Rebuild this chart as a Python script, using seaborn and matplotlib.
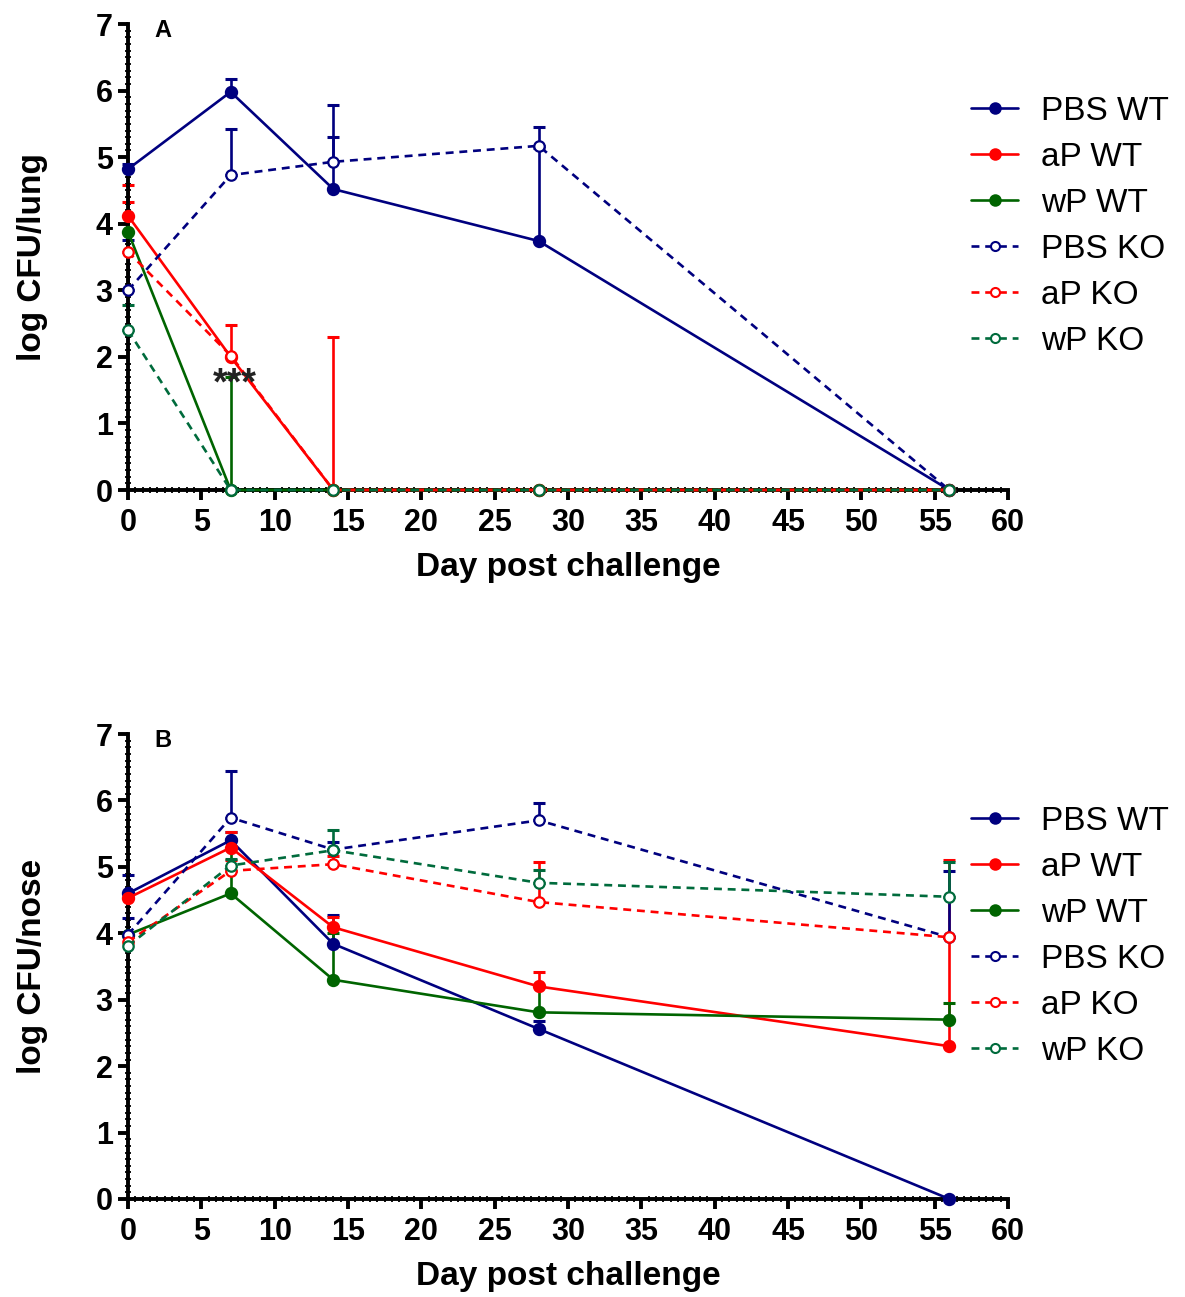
import numpy as np
import pandas as pd
import matplotlib
matplotlib.use("Agg")
import matplotlib.pyplot as plt
from matplotlib.ticker import MultipleLocator
from matplotlib.lines import Line2D
import seaborn as sns

nan = np.nan
days = [0, 7, 14, 28, 56]
series_names = ["PBS WT", "aP WT", "wP WT", "PBS KO", "aP KO", "wP KO"]

# Panel A: lung
pbs_wt_A = [4.82, 5.98, 4.52, 3.74, 0]
pbs_wt_A_err = [0.08, 0.20, 0.78, 1.40, nan]
ap_wt_A = [4.12, 2.00, 0, 0, 0]
ap_wt_A_err = [0.46, 0.48, 2.30, nan, nan]
wp_wt_A = [3.88, 0, 0, 0, 0]
wp_wt_A_err = [nan, 1.70, nan, nan, nan]
pbs_ko_A = [3.00, 4.73, 4.93, 5.17, 0]
pbs_ko_A_err = [0.75, 0.69, 0.85, 0.28, nan]
ap_ko_A = [3.58, 2.02, 0, 0, 0]
ap_ko_A_err = [0.74, nan, nan, nan, nan]
wp_ko_A = [2.40, 0, 0, 0, 0]
wp_ko_A_err = [0.38, nan, nan, nan, nan]

# Panel B: nose
pbs_wt_B = [4.60, 5.40, 3.84, 2.56, 0]
pbs_wt_B_err = [0.27, 0.12, 0.44, 0.12, nan]
ap_wt_B = [4.53, 5.29, 4.09, 3.20, 2.30]
ap_wt_B_err = [nan, 0.23, 0.16, 0.22, 2.80]
wp_wt_B = [3.98, 4.60, 3.30, 2.81, 2.70]
wp_wt_B_err = [nan, 0.82, 0.71, 0.40, 0.25]
pbs_ko_B = [3.98, 5.74, 5.26, 5.70, 3.94]
pbs_ko_B_err = [0.25, 0.70, 0.11, 0.26, 1.00]
ap_ko_B = [3.87, 4.94, 5.04, 4.47, 3.94]
ap_ko_B_err = [nan, 0.17, 0.12, 0.60, nan]
wp_ko_B = [3.81, 5.02, 5.25, 4.76, 4.55]
wp_ko_B_err = [nan, 0.10, 0.30, 0.20, 0.53]

panelA = [(pbs_wt_A, pbs_wt_A_err), (ap_wt_A, ap_wt_A_err), (wp_wt_A, wp_wt_A_err),
          (pbs_ko_A, pbs_ko_A_err), (ap_ko_A, ap_ko_A_err), (wp_ko_A, wp_ko_A_err)]
panelB = [(pbs_wt_B, pbs_wt_B_err), (ap_wt_B, ap_wt_B_err), (wp_wt_B, wp_wt_B_err),
          (pbs_ko_B, pbs_ko_B_err), (ap_ko_B, ap_ko_B_err), (wp_ko_B, wp_ko_B_err)]

colors = ["#00007F", "#FF0000", "#006400", "#00007F", "#FF0000", "#006B3C"]
dashed = [False, False, False, True, True, True]

sns.set_style("ticks")
plt.rcParams["font.family"] = ["Liberation Sans", "DejaVu Sans"]
plt.rcParams["text.color"] = "black"
plt.rcParams["axes.labelcolor"] = "black"
plt.rcParams["xtick.color"] = "black"
plt.rcParams["ytick.color"] = "black"

fig = plt.figure(figsize=(11.85, 12.97), dpi=100)
W, H = 1185, 1297
axA = fig.add_axes([128 / W, 1 - 490 / H, 880 / W, 466 / H])
axB = fig.add_axes([128 / W, 1 - 1199 / H, 880 / W, 465 / H])

DASH = (0, (3, 2.2))


def draw(ax, panel, ylabel, letter):
    handles = []
    for name, (vals, errs), c, d in zip(series_names, panel, colors, dashed):
        df = pd.DataFrame({"day": days, "val": vals})
        ls = DASH if d else "-"
        sns.lineplot(data=df, x="day", y="val", ax=ax, color=c, linewidth=1.9,
                     linestyle=ls, marker="o", markersize=8 if not d else 7.5,
                     markerfacecolor="white" if d else c, markeredgecolor=c,
                     markeredgewidth=1.6, clip_on=False, zorder=3, errorbar=None)
        e = np.array(errs, dtype=float)
        v = np.array(vals, dtype=float)
        m = ~np.isnan(e)
        if m.any():
            ax.errorbar(np.array(days)[m], v[m], yerr=[np.zeros(m.sum()), e[m]],
                        fmt="none", ecolor=c, elinewidth=1.9, capsize=4.5,
                        capthick=2.2, clip_on=False, zorder=2)
        handles.append(Line2D([0], [0], color=c, linewidth=1.9, linestyle=ls,
                              marker="o", markersize=7.5 if not d else 6.5,
                              markerfacecolor="white" if d else c,
                              markeredgecolor=c, markeredgewidth=1.5))
    ax.set_xlim(0, 60)
    ax.set_ylim(0, 7)
    ax.xaxis.set_major_locator(MultipleLocator(5))
    ax.yaxis.set_major_locator(MultipleLocator(1))
    ax.xaxis.set_minor_locator(MultipleLocator(0.5))
    ax.yaxis.set_minor_locator(MultipleLocator(0.1))
    sns.despine(ax=ax)
    for s in ["left", "bottom"]:
        ax.spines[s].set_linewidth(2.8)
        ax.spines[s].set_color("black")
    ax.tick_params(which="major", direction="out", length=7, width=2.8,
                   labelsize=22, pad=4, color="black", labelcolor="black")
    ax.tick_params(axis="x", which="major", pad=6)
    ax.tick_params(which="minor", direction="inout", length=5, width=1.3, color="black")
    for lab in ax.get_xticklabels() + ax.get_yticklabels():
        lab.set_fontweight("bold")
    ax.set_xlabel("Day post challenge", fontsize=24, fontweight="bold", labelpad=10,
                  color="black")
    ax.set_ylabel(ylabel, fontsize=24, fontweight="bold", labelpad=34, color="black")
    ax.text(0.04, 0.985, letter, transform=ax.transAxes, fontsize=17,
            fontweight="bold", ha="center", va="center", color="black")
    ax.set_facecolor("white")
    return handles


hA = draw(axA, panelA, "log CFU/lung", "A")
hB = draw(axB, panelB, "log CFU/nose", "B")

axA.text(7.3, 1.58, "***", fontsize=27, fontweight="bold", ha="center", va="center",
         color="#222222")

for ax, h, yc in [(axA, hA, 226), (axB, hB, 936)]:
    fig.legend(h, series_names, loc="center left",
               bbox_to_anchor=(958 / W, 1 - yc / H), frameon=False,
               fontsize=24, handlelength=1.4, handletextpad=0.7,
               labelspacing=0.45, borderaxespad=0)

fig.savefig("out.png", dpi=100, facecolor="white")
